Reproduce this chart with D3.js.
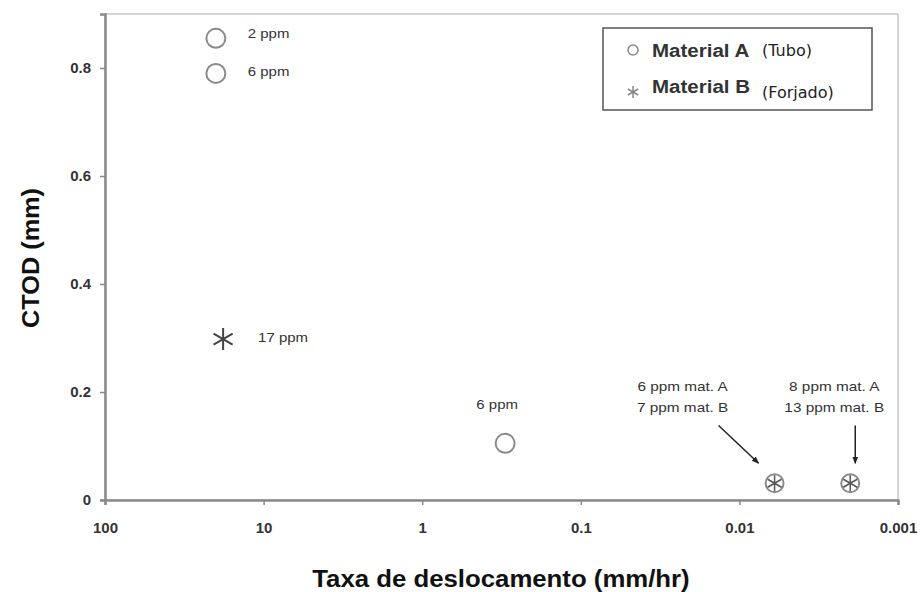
<!DOCTYPE html>
<html>
<head>
<meta charset="utf-8">
<script src="https://cdn.jsdelivr.net/npm/d3@7"></script>
<style>
  body { margin: 0; background: #fff; }
  svg { font-family: "Liberation Sans", Arial, sans-serif; }
</style>
</head>
<body>
<div class="chart"></div>
<script>
// values
const matA = [
  { rate: 20, ctod: 0.855, label: '2 ppm' },
  { rate: 20, ctod: 0.79, label: '6 ppm' },
  { rate: 0.3, ctod: 0.105, label: '6 ppm' },
  { rate: 0.006, ctod: 0.031 },
  { rate: 0.002, ctod: 0.031 }
]
const matB = [
  { rate: 18, ctod: 0.298, label: '17 ppm' },
  { rate: 0.006, ctod: 0.031 },
  { rate: 0.002, ctod: 0.031 }
]
const xTicks = [100, 10, 1, 0.1, 0.01, 0.001]
const xTickLabels = ['100', '10', '1', '0.1', '0.01', '0.001']
const yTicks = [0, 0.2, 0.4, 0.6, 0.8]
const yTickLabels = ['0', '0.2', '0.4', '0.6', '0.8']
const arrowNotes = [
  { lines: ['6 ppm mat. A', '7 ppm mat. B'], rate: 0.006, ctod: 0.031 },
  { lines: ['8 ppm mat. A', '13 ppm mat. B'], rate: 0.002, ctod: 0.031 }
]

const width = 924, height = 592
const margin = { top: 14, right: 26, bottom: 92, left: 105 }

// the source picture has slightly wide lettering
const widen = (sel, f) => sel.each(function () {
  const len = this.getComputedTextLength()
  d3.select(this).attr('textLength', len * f).attr('lengthAdjust', 'spacingAndGlyphs')
})

const svg = d3.select('.chart').append('svg')
  .attr('width', width)
  .attr('height', height)

svg.append('defs').append('marker')
  .attr('id', 'arrow')
  .attr('viewBox', '0 0 10 10')
  .attr('refX', 9).attr('refY', 5)
  .attr('markerWidth', 5).attr('markerHeight', 5)
  .attr('orient', 'auto')
  .append('path')
  .attr('d', 'M0,1 L10,5 L0,9 Z')
  .attr('fill', '#222')

const x = d3.scaleLog()
  .domain([100, 0.001])
  .range([margin.left, width - margin.right])

const y = d3.scaleLinear()
  .domain([0, 0.9])
  .range([height - margin.bottom, margin.top])

// frame (top / right light)
svg.append('rect')
  .attr('x', margin.left).attr('y', margin.top)
  .attr('width', width - margin.right - margin.left)
  .attr('height', height - margin.bottom - margin.top)
  .attr('fill', 'none')
  .attr('stroke', '#c8c8c8')
  .attr('stroke-width', 1.5)

let xAxis = svg.append('g')
  .attr('transform', `translate(0,${height - margin.bottom})`)
  .call(d3.axisBottom(x).tickValues(xTicks).tickSize(5).tickPadding(17)
    .tickFormat((d, i) => xTickLabels[i]))

let yAxis = svg.append('g')
  .attr('transform', `translate(${margin.left},0)`)
  .call(d3.axisLeft(y).tickValues(yTicks).tickSize(5).tickPadding(9)
    .tickFormat((d, i) => yTickLabels[i]))

for (const ax of [xAxis, yAxis]) {
  ax.select('.domain').attr('stroke', '#8a8a8a').attr('stroke-width', 2.5)
  ax.selectAll('.tick line').attr('stroke', '#8a8a8a').attr('stroke-width', 1.5)
  ax.selectAll('.tick text')
    .attr('fill', '#333')
    .attr('font-size', 15)
    .attr('font-weight', 'bold')
}

// markers
const circleStroke = '#8a8a8a'
const starPath = r => {
  let p = ''
  for (let k = 0; k < 3; k++) {
    const a = Math.PI / 2 + k * Math.PI / 3
    p += `M${-r * Math.cos(a)},${-r * Math.sin(a)}L${r * Math.cos(a)},${r * Math.sin(a)}`
  }
  return p
}

svg.append('g')
  .selectAll('circle')
  .data(matA)
  .enter()
  .append('circle')
  .attr('cx', d => x(d.rate))
  .attr('cy', d => y(d.ctod))
  .attr('r', d => d.rate < 0.01 ? 9 : 9.5)
  .attr('fill', 'none')
  .attr('stroke', circleStroke)
  .attr('stroke-width', 2)

svg.append('g')
  .selectAll('path')
  .data(matB)
  .enter()
  .append('path')
  .attr('transform', d => `translate(${x(d.rate)},${y(d.ctod)})`)
  .attr('d', d => d.rate < 0.01 ? starPath(8) : starPath(11))
  .attr('stroke', d => d.rate < 0.01 ? '#555' : '#444')
  .attr('stroke-width', d => d.rate < 0.01 ? 1.5 : 2)
  .attr('fill', 'none')

// point labels
const labelled = matA.concat(matB).filter(d => d.label)
svg.append('g')
  .selectAll('text')
  .data(labelled)
  .enter()
  .append('text')
  .attr('x', d => d.rate < 1 ? x(d.rate) - 8 : x(d.rate) + (d.rate < 19 ? 35 : 32))
  .attr('y', d => d.rate < 1 ? y(d.ctod) - 34 : y(d.ctod) + (d.ctod > 0.82 ? 0 : 3))
  .attr('text-anchor', d => d.rate < 1 ? 'middle' : 'start')
  .attr('font-size', 13)
  .attr('fill', '#333')
  .text(d => d.label)
  .call(widen, 1.15)

// arrow notes
const notes = svg.append('g')
  .selectAll('g')
  .data(arrowNotes)
  .enter()
  .append('g')

notes.append('text')
  .attr('x', (d, i) => i === 0 ? x(d.rate) - 92 : x(d.rate) - 16)
  .attr('y', y(0.2) - 1)
  .attr('text-anchor', 'middle')
  .attr('font-size', 13)
  .attr('fill', '#333')
  .selectAll('tspan')
  .data(d => d.lines)
  .enter()
  .append('tspan')
  .attr('x', function () { return this.parentNode.getAttribute('x') })
  .attr('dy', (d, i) => i === 0 ? 0 : 21)
  .text(d => d)
  .call(widen, 1.18)

notes.append('line')
  .attr('x1', (d, i) => i === 0 ? x(d.rate) - 56 : x(d.rate) + 5)
  .attr('y1', y(0.138))
  .attr('x2', (d, i) => i === 0 ? x(d.rate) - 16 : x(d.rate) + 5)
  .attr('y2', y(0.068))
  .attr('stroke', '#222')
  .attr('stroke-width', 1.5)
  .attr('marker-end', 'url(#arrow)')

// legend
const legend = svg.append('g').attr('transform', 'translate(603,28)')
legend.append('rect')
  .attr('width', 269).attr('height', 82)
  .attr('fill', '#fff')
  .attr('stroke', '#555')
  .attr('stroke-width', 1.5)

legend.append('circle')
  .attr('cx', 30).attr('cy', 22)
  .attr('r', 5)
  .attr('fill', 'none')
  .attr('stroke', '#888')
  .attr('stroke-width', 1.5)

legend.append('path')
  .attr('transform', 'translate(30,64)')
  .attr('d', starPath(6))
  .attr('stroke', '#888')
  .attr('stroke-width', 1.5)

const legItems = [
  { bold: 'Material A', rest: '(Tubo)', y: 29, yRest: 28 },
  { bold: 'Material B', rest: '(Forjado)', y: 65, yRest: 70 }
]
legItems.forEach(d => {
  legend.append('text')
    .attr('x', 49).attr('y', d.y)
    .attr('font-size', 18).attr('font-weight', 'bold').attr('fill', '#333')
    .text(d.bold)
    .call(widen, 1.14)
  legend.append('text')
    .attr('x', 159).attr('y', d.yRest)
    .attr('fill', '#222')
    .attr('font-family', '"DejaVu Sans", sans-serif')
    .attr('font-size', 16)
    .text(d.rest)
})

// axis titles
svg.append('text')
  .attr('x', 501)
  .attr('y', 587)
  .attr('text-anchor', 'middle')
  .attr('font-size', 23)
  .attr('font-weight', 'bold')
  .attr('fill', '#111')
  .text('Taxa de deslocamento (mm/hr)')
  .call(widen, 1.12)

svg.append('text')
  .attr('transform', 'translate(39,258) rotate(-90)')
  .attr('text-anchor', 'middle')
  .attr('font-size', 23)
  .attr('font-weight', 'bold')
  .attr('fill', '#111')
  .text('CTOD (mm)')
  .call(widen, 1.1)
</script>
</body>
</html>
